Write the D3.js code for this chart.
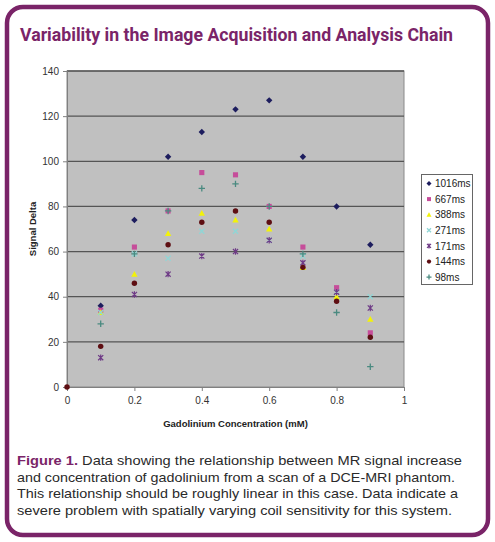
<!DOCTYPE html>
<html><head><meta charset="utf-8">
<script src="https://cdn.jsdelivr.net/npm/d3@7"></script>
<style>body{margin:0;background:#fff}svg{display:block}</style>
</head><body>
<svg id="c" width="495" height="542"></svg>
<script>
const concentrations = [0, 0.1, 0.2, 0.3, 0.4, 0.5, 0.6, 0.7, 0.8, 0.9];
const seriesNames = ["1016ms", "667ms", "388ms", "271ms", "171ms", "144ms", "98ms"];
const s1016 = [null, 36, 74, 102, 113, 123, 127, 102, 80, 63];
const s667  = [null, 34, 62, 78, 95, 94, 80, 62, 44, 24];
const s388  = [null, 33, 50, 68, 77, 74, 70, 53, 40, 30];
const s271  = [null, 33, 59, 57, 69, 69, 65, 58, 42, 40];
const s171  = [null, 13, 41, 50, 58, 60, 65, 55, 42, 35];
const s144  = [0, 18, 46, 63, 73, 78, 73, 53, 38, 22];
const s98   = [null, 28, 59, 78, 88, 90, 80, 59, 33, 9];
const yTicks = [0, 20, 40, 60, 80, 100, 120, 140];
const xTicks = [0, 0.2, 0.4, 0.6, 0.8, 1];
const seriesValues = [s1016, s667, s388, s271, s171, s144, s98];
const colors = ["#1d1d5e", "#c64d9a", "#f2f20a", "#8fd6d6", "#6e3a86", "#5e0e12", "#4a8a80"];
const shapes = ["diamond", "square", "triangle", "x", "star", "circle", "plus"];

const svg = d3.select("#c");
const purple = "#7a2468";

// frame
svg.append("rect").attr("x", 7).attr("y", 7).attr("width", 481).attr("height", 528)
  .attr("rx", 16).attr("fill", "#fff").attr("stroke", purple).attr("stroke-width", 4.5);

svg.append("text").attr("x", 20).attr("y", 41)
  .attr("font-family", "Roboto, 'Liberation Sans', sans-serif").attr("font-weight", "bold")
  .attr("font-size", 17.5).attr("fill", purple)
  .attr("textLength", 433).attr("lengthAdjust", "spacingAndGlyphs")
  .text("Variability in the Image Acquisition and Analysis Chain");

const m = {l: 67, r: 404, t: 71, b: 387};
const x = d3.scaleLinear().domain([0, 1]).range([m.l, m.r]);
const y = d3.scaleLinear().domain([0, 140]).range([m.b, m.t]);

svg.append("rect").attr("x", m.l).attr("y", m.t).attr("width", m.r - m.l).attr("height", m.b - m.t)
  .attr("fill", "#c0c0c0").attr("stroke", "#8a8a8a").attr("stroke-width", 1);

// gridlines
svg.append("g").selectAll("line").data(yTicks.filter(d => d > 0)).join("line")
  .attr("x1", m.l).attr("x2", m.r).attr("y1", d => y(d)).attr("y2", d => y(d))
  .attr("stroke", "#555").attr("stroke-width", 1.3);

const tf = "Liberation Sans, Arial, sans-serif";
const yAxis = svg.append("g").attr("transform", `translate(${m.l},0)`)
  .call(d3.axisLeft(y).tickValues(yTicks).tickSize(4).tickPadding(4).tickFormat(d3.format("d")));
const xAxis = svg.append("g").attr("transform", `translate(0,${m.b})`)
  .call(d3.axisBottom(x).tickValues(xTicks).tickSize(4).tickPadding(6).tickFormat(d => d === 0 || d === 1 ? d : d3.format(".1f")(d)));
[yAxis, xAxis].forEach(a => {
  a.select(".domain").attr("stroke", "#808080");
  a.selectAll(".tick line").attr("stroke", "#808080");
  a.selectAll("text").attr("font-family", tf).attr("font-size", 10).attr("fill", "#333");
});

svg.append("text").attr("transform", `translate(36,${(m.t + m.b) / 2}) rotate(-90)`)
  .attr("text-anchor", "middle").attr("font-family", tf).attr("font-weight", "bold")
  .attr("font-size", 9.5).attr("fill", "#222").text("Signal Delta");
svg.append("text").attr("x", (m.l + m.r) / 2).attr("y", 427)
  .attr("text-anchor", "middle").attr("font-family", tf).attr("font-weight", "bold")
  .attr("font-size", 9.5).attr("fill", "#222").text("Gadolinium Concentration (mM)");

function marker(g, shape, color, s) {
  if (shape === "diamond") g.append("path").attr("d", `M0,${-s}L${s},0L0,${s}L${-s},0Z`).attr("fill", color);
  else if (shape === "square") g.append("rect").attr("x", -s * 0.8).attr("y", -s * 0.8).attr("width", s * 1.6).attr("height", s * 1.6).attr("fill", color);
  else if (shape === "triangle") g.append("path").attr("d", `M0,${-s}L${s},${s * 0.8}L${-s},${s * 0.8}Z`).attr("fill", color);
  else if (shape === "circle") g.append("circle").attr("r", s * 0.85).attr("fill", color);
  else if (shape === "x") g.append("path").attr("d", `M${-s * 0.8},${-s * 0.8}L${s * 0.8},${s * 0.8}M${s * 0.8},${-s * 0.8}L${-s * 0.8},${s * 0.8}`).attr("stroke", color).attr("stroke-width", 1.3);
  else if (shape === "star") g.append("path").attr("d", `M${-s * 0.8},${-s * 0.8}L${s * 0.8},${s * 0.8}M${s * 0.8},${-s * 0.8}L${-s * 0.8},${s * 0.8}M0,${-s}L0,${s}`).attr("stroke", color).attr("stroke-width", 1.2);
  else if (shape === "plus") g.append("path").attr("d", `M${-s},0L${s},0M0,${-s}L0,${s}`).attr("stroke", color).attr("stroke-width", 1.3);
}

seriesValues.forEach((vals, i) => {
  const g = svg.append("g");
  concentrations.forEach((c, j) => {
    if (vals[j] == null) return;
    const p = g.append("g").attr("transform", `translate(${x(c)},${y(vals[j])})`);
    marker(p, shapes[i], colors[i], 3.2);
  });
});

// legend
const lg = svg.append("g");
lg.append("rect").attr("x", 421.5).attr("y", 174.5).attr("width", 51).attr("height", 110)
  .attr("fill", "#fff").attr("stroke", "#666").attr("stroke-width", 1);
seriesNames.forEach((n, i) => {
  const yy = 183.5 + i * 15.6;
  const p = lg.append("g").attr("transform", `translate(429,${yy})`);
  marker(p, shapes[i], colors[i], 2.5);
  lg.append("text").attr("x", 435).attr("y", yy + 3.6).attr("font-family", tf)
    .attr("font-size", 10).attr("fill", "#222").text(n);
});

// caption
const cf = "'Liberation Sans', Arial, sans-serif";
const lines = [
  ["Figure 1.", " Data showing the relationship between MR signal increase", 445],
  ["", "and concentration of gadolinium from a scan of a DCE-MRI phantom.", 438],
  ["", "This relationship should be roughly linear in this case. Data indicate a", 441],
  ["", "severe problem with spatially varying coil sensitivity for this system.", 435]
];
lines.forEach((l, i) => {
  const t = svg.append("text").attr("x", 17).attr("y", 465 + i * 16.6)
    .attr("font-family", cf).attr("font-size", 13.3).attr("fill", "#2a2a2a")
    .attr("textLength", l[2]).attr("lengthAdjust", "spacingAndGlyphs");
  if (l[0]) t.append("tspan").attr("font-weight", "bold").attr("fill", purple).text(l[0]);
  t.append("tspan").text(l[1]);
});
</script>
</body></html>
